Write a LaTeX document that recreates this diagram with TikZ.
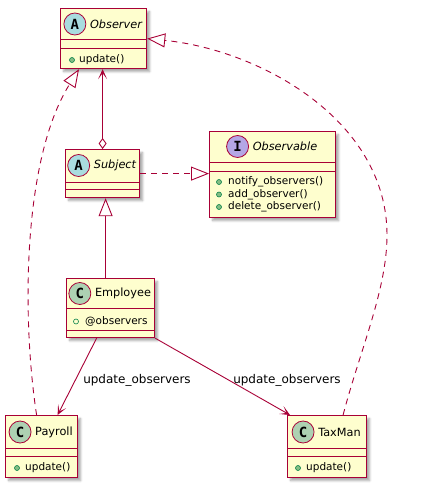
\documentclass[tikz,border=0pt]{standalone}
\usepackage{fontspec}
\setmainfont{DejaVu Sans}
\newfontfamily\iconfont{DejaVu Sans Mono}
\usetikzlibrary{arrows.meta,shadows.blur}

\definecolor{umlborder}{HTML}{A80036}
\definecolor{umlfill}{HTML}{FEFECE}
\definecolor{abstracticon}{HTML}{A9DCDF}
\definecolor{interfaceicon}{HTML}{B4A7E5}
\definecolor{classicon}{HTML}{ADD1B2}
\definecolor{publicfill}{HTML}{84BE84}
\definecolor{publicdark}{HTML}{038048}

\tikzset{
  classbox/.style={draw=umlborder, fill=umlfill, line width=1.2pt, inner sep=0pt,
    anchor=north west,
    blur shadow={shadow xshift=3pt, shadow yshift=-3pt, shadow blur steps=6, shadow opacity=35}},
  divider/.style={draw=umlborder, line width=0.8pt},
  kindicon/.style={circle, draw=umlborder, line width=0.8pt, minimum size=22pt, inner sep=0pt,
    font=\iconfont\bfseries\fontsize{14}{14}\selectfont},
  cname/.style={font=\fontsize{11.3}{13}\selectfont, inner sep=0pt},
  member/.style={font=\fontsize{10.5}{12}\selectfont, anchor=west, inner sep=0pt},
  methodmark/.style={circle, draw=publicdark, fill=publicfill, minimum size=5pt, inner sep=0pt, line width=0.6pt},
  fieldmark/.style={circle, draw=publicdark, fill=umlfill, minimum size=5pt, inner sep=0pt, line width=0.6pt},
  lbl/.style={font=\fontsize{12}{14}\selectfont, inner sep=0pt},
  link/.style={draw=umlborder, line width=0.9pt},
  realize/.style={link, dash pattern=on 6pt off 5pt,
    -{Triangle[open, length=18pt, width=14pt, fill=white]}},
  extend/.style={link, -{Triangle[open, length=18pt, width=14pt, fill=white]}},
  assoc/.style={link, -{Stealth[length=10pt, width=9pt, inset=6pt]}},
}

\begin{document}
\begin{tikzpicture}[x=1pt, y=-1pt]
\useasboundingbox (0,0) rectangle (427,487);

% ---------- Observer (abstract) ----------
\node[classbox, minimum width=86pt, minimum height=60pt] (obs) at (60,8) {};
\draw[divider] (60,39) -- (146,39);
\draw[divider] (60,48) -- (146,48);
\node[cname] (obsname) at (116,24) {\itshape Observer};
\node[kindicon, fill=abstracticon] (obsicon) at ([xshift=-15pt]obsname.west) {A};
\node[methodmark] (obsm1) at (72,60) {};
\node[member] (obsupd) at (79,60) {update()};

% ---------- Subject (abstract) ----------
\node[classbox, minimum width=74pt, minimum height=48pt] (subj) at (65,149) {};
\draw[divider] (65,182) -- (139,182);
\draw[divider] (65,189) -- (139,189);
\node[cname] (subjname) at (115,165.5) {\itshape Subject};
\node[kindicon, fill=abstracticon] (subjicon) at ([xshift=-15pt]subjname.west) {A};

% ---------- Observable (interface) ----------
\node[classbox, minimum width=126pt, minimum height=86pt] (iobs) at (209,131) {};
\draw[divider] (209,162) -- (335,162);
\draw[divider] (209,171) -- (335,171);
\node[cname] (iobsname) at (285,146.5) {\itshape Observable};
\node[kindicon, fill=interfaceicon] (iobsicon) at ([xshift=-15pt]iobsname.west) {I};
\node[methodmark] (iobsm1) at (219,182) {};
\node[member] (iobsnotify) at (228,182) {notify\_observers()};
\node[methodmark] (iobsm2) at (219,194.5) {};
\node[member] (iobsadd) at (228,194.5) {add\_observer()};
\node[methodmark] (iobsm3) at (219,207) {};
\node[member] (iobsdel) at (228,207) {delete\_observer()};

% ---------- Employee ----------
\node[classbox, minimum width=88pt, minimum height=59pt] (emp) at (66,278) {};
\draw[divider] (66,308) -- (154,308);
\draw[divider] (66,330) -- (154,330);
\node[cname] (empname) at (123,293.5) {Employee};
\node[kindicon, fill=classicon] (empicon) at ([xshift=-15pt]empname.west) {C};
\node[fieldmark] (empf1) at (76,321.5) {};
\node[member] (empobs) at (85,321.5) {@observers};

% ---------- Payroll ----------
\node[classbox, minimum width=72pt, minimum height=62pt] (pay) at (5,415) {};
\draw[divider] (5,448) -- (77,448);
\draw[divider] (5,456) -- (77,456);
\node[cname] (payname) at (54,432) {Payroll};
\node[kindicon, fill=classicon] (payicon) at ([xshift=-15pt]payname.west) {C};
\node[methodmark] (paym1) at (17,468) {};
\node[member] (payupd) at (25,468) {update()};

% ---------- TaxMan ----------
\node[classbox, minimum width=79pt, minimum height=62pt] (tax) at (287,415) {};
\draw[divider] (287,448) -- (366,448);
\draw[divider] (287,456) -- (366,456);
\node[cname] (taxname) at (339.5,432) {TaxMan};
\node[kindicon, fill=classicon] (taxicon) at ([xshift=-15pt]taxname.west) {C};
\node[methodmark] (taxm1) at (298,468) {};
\node[member] (taxupd) at (306,468) {update()};

% ---------- relations ----------
% Subject aggregates Observers
\draw[link, {Diamond[open, length=11pt, width=8pt, fill=white]}-{Stealth[length=10pt, width=9pt, inset=6pt]}]
  (subj.north) -- (subj.north |- obs.south);

% Subject realizes Observable
\draw[realize] (subj.east) -- (subj.east -| iobs.west);

% Employee extends Subject
\draw[extend] ([xshift=-5pt]emp.north) -- ([xshift=-5pt]emp.north |- subj.south);

% Employee notifies Payroll and TaxMan
\draw[assoc] ([xshift=-14pt]emp.south) -- ([xshift=16pt]pay.north);
\draw[assoc] (emp.south east) -- ([xshift=3pt]tax.north west);
\node[lbl] (lblpay) at (137,380) {update\_observers};
\node[lbl] (lbltax) at (287,380) {update\_observers};

% Payroll and TaxMan realize Observer
\draw[realize] ([xshift=-5pt]pay.north) .. controls (22,320) and (22,160) .. ([xshift=19pt]obs.south west);
\draw[realize] ([xshift=16pt]tax.north) .. controls (360,350) and (387,290) .. (387,235)
  .. controls (387,120) and (260,50) .. (obs.east);
\end{tikzpicture}
\end{document}
